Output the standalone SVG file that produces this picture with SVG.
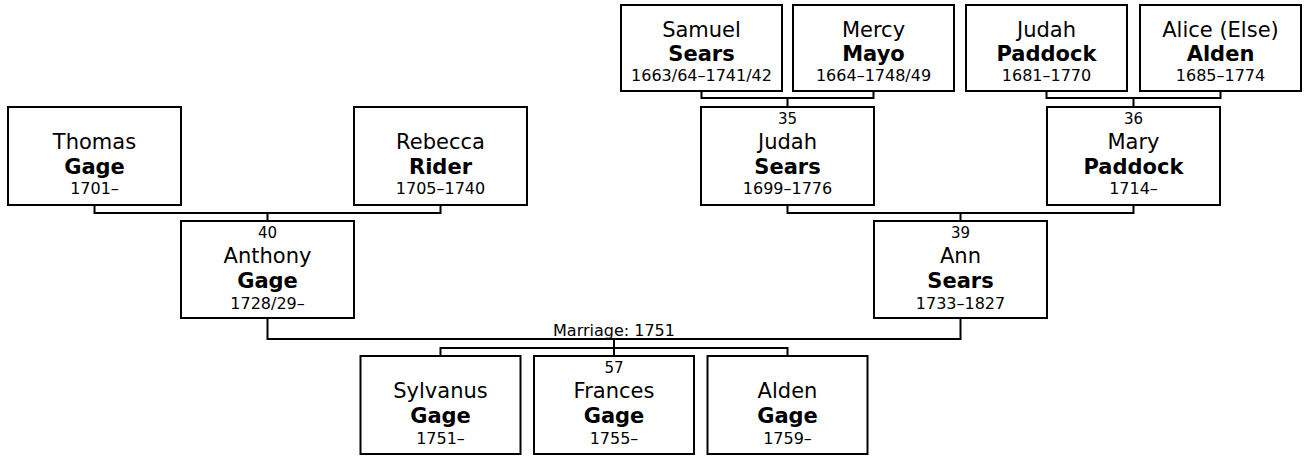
<svg xmlns="http://www.w3.org/2000/svg" width="1306" height="456" viewBox="0 0 1306 456">
<style>
.box{fill:#fff;stroke:#000;stroke-width:2}
.c{fill:none;stroke:#000;stroke-width:2}
text{font-family:"DejaVu Sans","Liberation Sans",sans-serif;text-anchor:middle;fill:#000}
.n{font-size:21px}
.s{font-size:21px;font-weight:bold}
.y{font-size:16px}
.k{font-size:15px}
</style>
<rect width="1306" height="456" fill="#fff"/>
<g id="connectors">
<path class="c" d="M94.5 205V213H440.5V205M267.5 213V221"/>
<path class="c" d="M701.5 91V98H873.5V91M787.5 98V107"/>
<path class="c" d="M1046.5 91V98H1220.5V91M1133.5 98V107"/>
<path class="c" d="M787.5 205V213H1133.5V205M960.5 213V221"/>
<path class="c" d="M267.5 318V339H960.5V318M614 339V356M440.5 356V348H787.5V356"/>
<text class="y" x="614" y="336">Marriage: 1751</text>
</g>
<g id="thomas">
<rect class="box" x="8" y="107" width="173" height="98"/>
<text class="n" x="94.5" y="149">Thomas</text>
<text class="s" x="94.5" y="174">Gage</text>
<text class="y" x="94.5" y="194">1701–</text>
</g>
<g id="rebecca">
<rect class="box" x="354" y="107" width="173" height="98"/>
<text class="n" x="440.5" y="149">Rebecca</text>
<text class="s" x="440.5" y="174">Rider</text>
<text class="y" x="440.5" y="194">1705–1740</text>
</g>
<g id="anthony">
<rect class="box" x="181" y="221" width="173" height="97"/>
<text class="k" x="267.5" y="238">40</text>
<text class="n" x="267.5" y="263">Anthony</text>
<text class="s" x="267.5" y="288">Gage</text>
<text class="y" x="267.5" y="309">1728/29–</text>
</g>
<g id="samuel">
<rect class="box" x="621" y="5" width="161" height="86"/>
<text class="n" x="701.5" y="37">Samuel</text>
<text class="s" x="701.5" y="61">Sears</text>
<text class="y" x="701.5" y="81">1663/64–1741/42</text>
</g>
<g id="mercy">
<rect class="box" x="793" y="5" width="161" height="86"/>
<text class="n" x="873.5" y="37">Mercy</text>
<text class="s" x="873.5" y="61">Mayo</text>
<text class="y" x="873.5" y="81">1664–1748/49</text>
</g>
<g id="judahp">
<rect class="box" x="966" y="5" width="161" height="86"/>
<text class="n" x="1046.5" y="37">Judah</text>
<text class="s" x="1046.5" y="61">Paddock</text>
<text class="y" x="1046.5" y="81">1681–1770</text>
</g>
<g id="alice">
<rect class="box" x="1140" y="5" width="161" height="86"/>
<text class="n" x="1220.5" y="37">Alice (Else)</text>
<text class="s" x="1220.5" y="61">Alden</text>
<text class="y" x="1220.5" y="81">1685–1774</text>
</g>
<g id="judahs">
<rect class="box" x="701" y="107" width="173" height="98"/>
<text class="k" x="787.5" y="124">35</text>
<text class="n" x="787.5" y="149">Judah</text>
<text class="s" x="787.5" y="174">Sears</text>
<text class="y" x="787.5" y="194">1699–1776</text>
</g>
<g id="mary">
<rect class="box" x="1047" y="107" width="173" height="98"/>
<text class="k" x="1133.5" y="124">36</text>
<text class="n" x="1133.5" y="149">Mary</text>
<text class="s" x="1133.5" y="174">Paddock</text>
<text class="y" x="1133.5" y="194">1714–</text>
</g>
<g id="ann">
<rect class="box" x="874" y="221" width="173" height="97"/>
<text class="k" x="960.5" y="238">39</text>
<text class="n" x="960.5" y="263">Ann</text>
<text class="s" x="960.5" y="288">Sears</text>
<text class="y" x="960.5" y="309">1733–1827</text>
</g>
<g id="sylvanus">
<rect class="box" x="360.5" y="356" width="160" height="98"/>
<text class="n" x="440.5" y="398">Sylvanus</text>
<text class="s" x="440.5" y="423">Gage</text>
<text class="y" x="440.5" y="444">1751–</text>
</g>
<g id="frances">
<rect class="box" x="534" y="356" width="160" height="98"/>
<text class="k" x="614" y="373">57</text>
<text class="n" x="614" y="398">Frances</text>
<text class="s" x="614" y="423">Gage</text>
<text class="y" x="614" y="444">1755–</text>
</g>
<g id="alden">
<rect class="box" x="707.5" y="356" width="160" height="98"/>
<text class="n" x="787.5" y="398">Alden</text>
<text class="s" x="787.5" y="423">Gage</text>
<text class="y" x="787.5" y="444">1759–</text>
</g>
</svg>
